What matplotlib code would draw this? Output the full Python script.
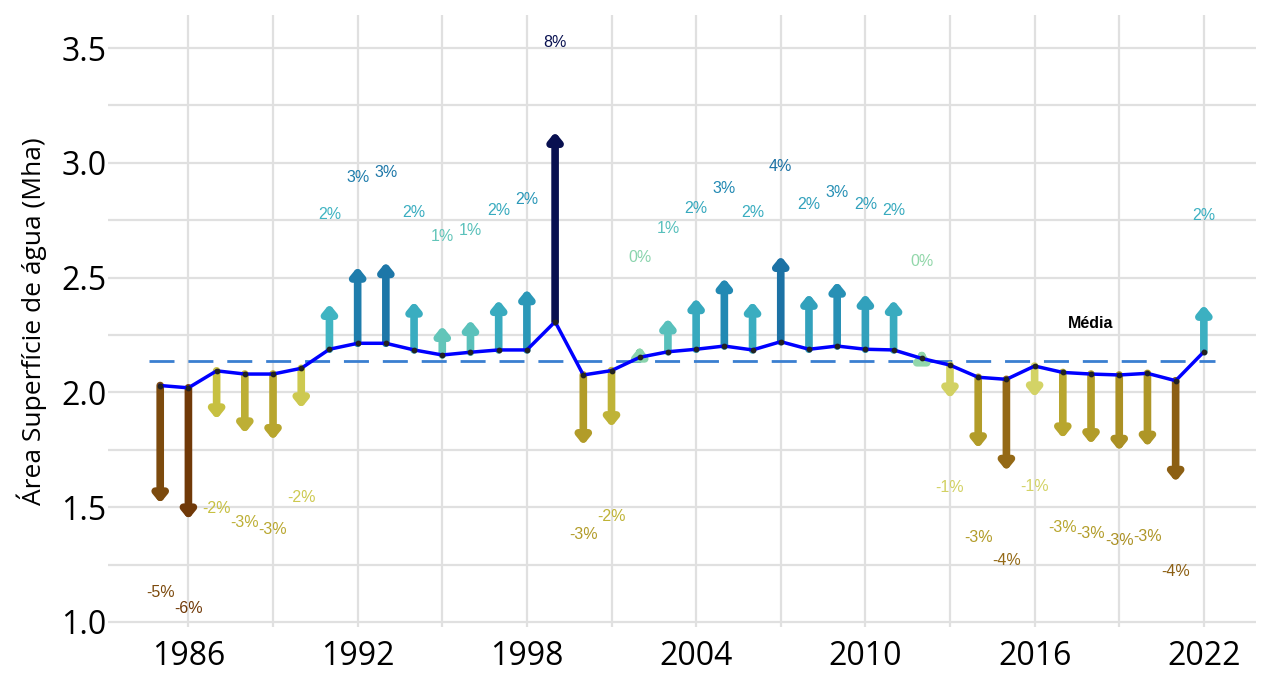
import matplotlib
matplotlib.use("Agg")
import matplotlib.pyplot as plt
from matplotlib.colors import LinearSegmentedColormap, Normalize

# surface area of water (Mha) per year, arrow tips, and labels
years = list(range(1985, 2023))
area = [2.03, 2.02, 2.094, 2.08, 2.08, 2.105, 2.188, 2.214, 2.214, 2.185,
        2.163, 2.175, 2.185, 2.185, 2.308, 2.076, 2.095, 2.153, 2.177, 2.188,
        2.202, 2.185, 2.221, 2.188, 2.202, 2.188, 2.185, 2.148, 2.119, 2.066,
        2.057, 2.115, 2.087, 2.08, 2.076, 2.083, 2.051, 2.177]
tip = [1.517, 1.447, 1.883, 1.822, 1.793, 1.931, 2.385, 2.547, 2.567, 2.395,
       2.289, 2.315, 2.402, 2.449, 3.134, 1.771, 1.849, 2.199, 2.322, 2.41,
       2.497, 2.395, 2.594, 2.429, 2.482, 2.429, 2.402, 2.182, 1.974, 1.757,
       1.659, 1.979, 1.80, 1.775, 1.746, 1.764, 1.611, 2.381]
pct = [-5, -6, -2, -3, -3, -2, 2, 3, 3, 2,
       1, 1, 2, 2, 8, -3, -2, 0, 1, 2,
       3, 2, 4, 2, 3, 2, 2, 0, -1, -3,
       -4, -1, -3, -3, -3, -3, -4, 2]
media = 2.138

stops = [(-6, "#6b3306"), (-4, "#946a16"), (-3, "#b5a12b"), (-2, "#c9c443"),
         (-1, "#d9dc7c"), (0, "#a3dca4"), (1, "#6ecbb6"), (2, "#3eb3c2"),
         (3, "#2187b2"), (4, "#1a6aa0"), (8, "#081050")]
lo, hi = stops[0][0], stops[-1][0]
cmap = LinearSegmentedColormap.from_list(
    "varia", [((v - lo) / (hi - lo), c) for v, c in stops])
norm = Normalize(lo, hi)

plt.rcParams["font.family"] = ["Open Sans", "DejaVu Sans"]

fig = plt.figure(figsize=(12.86, 6.82), dpi=100)
ax = fig.add_axes([0.084, 0.0806, 0.8927, 0.8974])

for yr, v, t, p in zip(years, area, tip, pct):
    c = cmap(norm((t - v) * 10))
    ax.annotate("", xy=(yr, t), xytext=(yr, v),
                arrowprops=dict(arrowstyle="-|>,head_length=0.22,head_width=0.18",
                                lw=5.5, color=c, shrinkA=0, shrinkB=0,
                                mutation_scale=20, capstyle="round",
                                joinstyle="round"),
                zorder=3)
    off = 0.39 if t >= v else -0.39
    ax.text(yr, t + off, f"{p}%", color=c, fontsize=11.5, ha="center",
            va="center", family="Liberation Sans", zorder=4)

ax.plot(years, area, color="#0000ff", lw=2.5, zorder=5)
ax.scatter(years, area, s=10, color="#222222", zorder=6)
ax.plot([1984.6, 2022.4], [media, media], color="#3a7fd0", lw=2,
        dashes=(9, 5), zorder=2)
ax.text(2018, 2.30, "Média", fontsize=11.5, fontweight="bold", ha="center",
        va="center", color="black", family="Liberation Sans")

ax.set_xlim(1983.15, 2023.85)
ax.set_ylim(0.978, 3.644)
ax.set_xticks([1986, 1992, 1998, 2004, 2010, 2016, 2022])
ax.set_xticks([1989, 1995, 2001, 2007, 2013, 2019], minor=True)
ax.set_yticks([1.0, 1.5, 2.0, 2.5, 3.0, 3.5])
ax.set_yticks([1.25, 1.75, 2.25, 2.75, 3.25], minor=True)
ax.set_yticklabels(["1.0", "1.5", "2.0", "2.5", "3.0", "3.5"])
ax.grid(True, which="both", color="#e0e0e0", lw=1.6)
ax.set_axisbelow(True)
ax.tick_params(which="both", length=0, labelsize=23)
ax.tick_params(axis="x", pad=9)
ax.tick_params(axis="y", pad=1)
for s in ax.spines.values():
    s.set_visible(False)
ax.set_ylabel("Área Superfície de água (Mha)", fontsize=19, labelpad=10)

fig.savefig("out.png", dpi=100)
